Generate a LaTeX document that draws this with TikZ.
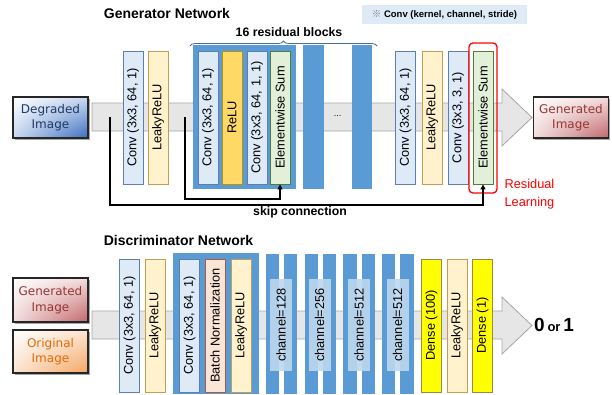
\documentclass[tikz,border=0pt]{standalone}
\usepackage{fontspec}
\setmainfont{Liberation Sans}
\newfontfamily\dvfont{DejaVu Sans}
\newfontfamily\cjkfont{Noto Sans CJK JP}
\usetikzlibrary{decorations.pathreplacing,shadows,shadings,arrows.meta}
\definecolor{convfill}{HTML}{DEEBF7}
\definecolor{convdraw}{HTML}{5B7FAE}
\definecolor{leakyfill}{HTML}{FFF2CC}
\definecolor{leakydraw}{HTML}{C0A050}
\definecolor{relufill}{HTML}{FFD966}
\definecolor{reludraw}{HTML}{BF9000}
\definecolor{sumfill}{HTML}{E2F0D9}
\definecolor{sumdraw}{HTML}{507E32}
\definecolor{bnfill}{HTML}{FBE5D6}
\definecolor{bndraw}{HTML}{B05A3C}
\definecolor{densefill}{HTML}{FFFF00}
\definecolor{densedraw}{HTML}{9C8A3C}
\definecolor{blockblue}{HTML}{5B9BD5}
\definecolor{chanfill}{HTML}{BDD7EE}
\definecolor{pipefill}{HTML}{E7E6E6}
\definecolor{pipedraw}{HTML}{A6A6A6}
\definecolor{notefill}{HTML}{DEEBF7}
\definecolor{bracecol}{HTML}{41719C}
\definecolor{degmid}{HTML}{C9D8F0}
\definecolor{degdark}{HTML}{3A6CC0}
\definecolor{degtext}{HTML}{203864}
\definecolor{genmid}{HTML}{F2DCDB}
\definecolor{gendark}{HTML}{C0646A}
\definecolor{gentext}{HTML}{943634}
\definecolor{orgmid}{HTML}{FCE4D0}
\definecolor{orgdark}{HTML}{F4A460}
\definecolor{orgtext}{HTML}{E46C0A}
\begin{document}
\begin{tikzpicture}[x=1pt,y=-1pt,
  lbl/.style={rotate=90, minimum width=133pt, minimum height=20pt, inner sep=0pt,
    line width=0.8pt, font=\fontsize{12.8}{14}\selectfont},
  conv/.style={lbl, draw=convdraw, fill=convfill},
  leaky/.style={lbl, draw=leakydraw, fill=leakyfill},
  relu/.style={lbl, draw=reludraw, fill=relufill},
  esum/.style={lbl, draw=sumdraw, fill=sumfill},
  bnorm/.style={lbl, draw=bndraw, fill=bnfill},
  dense/.style={lbl, draw=densedraw, fill=densefill},
  chan/.style={rotate=90, minimum width=92pt, minimum height=22pt, inner sep=0pt,
    fill=chanfill, fill opacity=.9, text opacity=1, font=\fontsize{12.8}{14}\selectfont},
  img/.style={draw=black!85, line width=1.2pt, minimum width=75pt, minimum height=41pt,
    inner sep=0pt, align=center, font=\dvfont\fontsize{12}{15.5}\selectfont,
    drop shadow={shadow xshift=1.5pt, shadow yshift=-1.5pt, opacity=.35, fill=black}},
  pipe/.style={fill=pipefill, draw=pipedraw, line width=0.8pt},
  blk/.style={fill=blockblue},
  skip/.style={line width=1.1pt, -{Triangle[length=5pt,width=5pt]}},
  title/.style={font=\bfseries\fontsize{14}{16}\selectfont},
  txt/.style={font=\bfseries\fontsize{12.3}{15}\selectfont},
]
\useasboundingbox (0,0) rectangle (612,394);

% ---------------- Generator ----------------
\node[title] (gt) at (167,13) {Generator Network};
\node[fill=notefill, minimum width=165pt, minimum height=19pt, inner sep=0pt,
  font=\bfseries\fontsize{9.5}{11}\selectfont] (note) at (444.5,14.5)
  {{\cjkfont\mdseries\color{gray}※} Conv (kernel, channel, stride)};
\node[txt] (rb) at (289,32) {16 residual blocks};
\draw[bracecol, line width=0.8pt, decorate, decoration={brace, amplitude=5pt}]
  (190,46) -- (377,46);

\path[pipe] (92,103) -- (502,103) -- (502,89) -- (532,117.5) -- (502,146)
  -- (502,131) -- (92,131) -- cycle;

\node[img, upper left=white, upper right=degmid, lower left=degmid,
  lower right=degdark, text=degtext] (deg) at (50.5,117.5) {Degraded\\Image};

\node[conv] (g1) at (133,117.5) {Conv (3x3, 64, 1)};
\node[leaky] (g2) at (158,117.5) {LeakyReLU};
\fill[blk] (193,45) rectangle (296,189);
\node[conv] (r1) at (208,117.5) {Conv (3x3, 64, 1)};
\node[relu] (r2) at (232,117.5) {ReLU};
\node[conv] (r3) at (257,117.5) {Conv (3x3, 64, 1, 1)};
\node[esum] (r4) at (280,117.5) {Elementwise Sum};
\fill[blk] (303,45) rectangle (324,189);
\node[font=\fontsize{9}{10}\selectfont] (dots) at (337.5,116) {...};
\fill[blk] (352,45) rectangle (372,189);
\node[conv] (g3) at (405.5,117.5) {Conv (3x3, 64, 1)};
\node[leaky] (g4) at (432,117.5) {LeakyReLU};
\node[conv] (g5) at (458,117.5) {Conv (3x3, 3, 1)};
\node[esum] (g6) at (483,117.5) {Elementwise Sum};
\node[draw=red, line width=1.3pt, rounded corners=4pt, minimum width=28pt,
  minimum height=150pt, inner sep=0pt] (rl) at (483,118) {};
\node[text=red, align=left, anchor=west, font=\fontsize{12.8}{18.5}\selectfont]
  (rlt) at (501,194) {Residual\\Learning};

\node[img, upper left=white, upper right=genmid, lower left=genmid,
  lower right=gendark, text=gentext] (gen) at (571,117.5) {Generated\\Image};

\coordinate (s1) at (185,117);
\coordinate (s2) at (110,117);
\draw[skip] (s1) -- ++(0,82) -| (r4.west);
\draw[skip] (s2) -- ++(0,88) -| (g6.west);
\node[txt] (sc) at (300,212) {skip connection};

% ---------------- Discriminator ----------------
\node[title] (dt) at (178.5,240) {Discriminator Network};
\path[pipe] (92,311) -- (502,311) -- (502,297) -- (532,325.5) -- (502,354)
  -- (502,339) -- (92,339) -- cycle;

\node[img, minimum height=44pt, upper left=white, upper right=genmid, lower left=genmid,
  lower right=gendark, text=gentext] (dgen) at (50.5,300) {Generated\\Image};
\node[img, minimum height=43pt, upper left=white, upper right=orgmid, lower left=orgmid,
  lower right=orgdark, text=orgtext] (orig) at (50.5,351.5) {Original\\Image};

\node[conv] (d1) at (129.5,325.5) {Conv (3x3, 64, 1)};
\node[leaky] (d2) at (155,325.5) {LeakyReLU};
\fill[blk] (173,253) rectangle (259,394);
\node[conv] (d3) at (189.5,325.5) {Conv (3x3, 64, 1)};
\node[bnorm] (d4) at (215,325.5) {Batch Normalization};
\node[leaky] (d5) at (241,325.5) {LeakyReLU};

\foreach \a/\b in {266/279,284/297,305/318,323/336,343/357,362/375,382/395,400/414}
  \fill[blk] (\a,254) rectangle (\b,394);
\node[chan] (c1) at (281,325) {channel=128};
\node[chan] (c2) at (319.5,325) {channel=256};
\node[chan] (c3) at (359,325) {channel=512};
\node[chan] (c4) at (397.5,325) {channel=512};

\node[dense] (d6) at (431.5,325.5) {Dense (100)};
\node[leaky] (d7) at (457,325.5) {LeakyReLU};
\node[dense] (d8) at (482.5,325.5) {Dense (1)};

\node[font=\bfseries] (out) at (554,325)
  {{\fontsize{19}{20}\selectfont 0} {\fontsize{13}{14}\selectfont or} {\fontsize{19}{20}\selectfont 1}};
\end{tikzpicture}
\end{document}
